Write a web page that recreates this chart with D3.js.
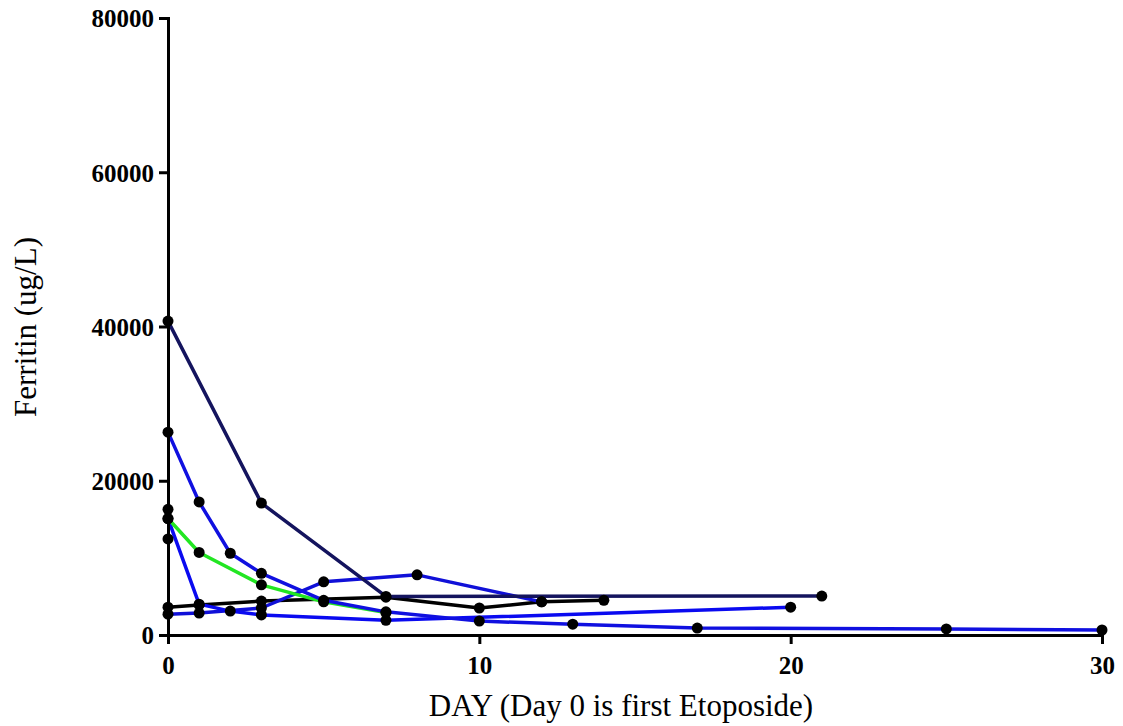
<!DOCTYPE html>
<html><head><meta charset="utf-8">
<script src="https://cdn.jsdelivr.net/npm/d3@7"></script>
<style>body{margin:0;background:#fff}svg{display:block}</style>
</head><body>
<svg id="c" width="1123" height="726"></svg>
<script>
const xTicks = [0, 10, 20, 30];
const yTicks = [0, 20000, 40000, 60000, 80000];
const navyDays = [0, 3, 7, 21];
const navyVals = [40700, 17100, 5000, 5050];
const blueADays = [0, 1, 2, 3, 5, 7, 10, 13, 17, 25, 30];
const blueAVals = [26300, 17250, 10600, 8000, 4500, 3000, 1800, 1400, 900, 780, 650];
const greenDays = [0, 1, 3, 5, 7];
const greenVals = [15100, 10700, 6500, 4300, 2900];
const blueBDays = [0, 1, 2, 3, 7, 20];
const blueBVals = [15100, 4000, 3100, 2600, 1900, 3600];
const blueCDays = [0, 1, 3, 5, 8, 12];
const blueCVals = [2700, 2850, 3500, 6900, 7800, 4300];
const blackDays = [0, 1, 3, 7, 10, 12, 14];
const blackVals = [3600, 3900, 4400, 4900, 3500, 4300, 4500];
const soloDays = [0, 0];
const soloVals = [16300, 12450];

const series = [
  {d: blackDays, v: blackVals, c: "#000000"},
  {d: blueCDays, v: blueCVals, c: "#1010d8"},
  {d: blueBDays, v: blueBVals, c: "#0a0af0"},
  {d: greenDays, v: greenVals, c: "#22e622"},
  {d: blueADays, v: blueAVals, c: "#1010e0"},
  {d: navyDays, v: navyVals, c: "#14145e"},
  {d: soloDays, v: soloVals, c: "none"}
];

const svg = d3.select("#c");
const x = d3.scaleLinear().domain([0, 30]).range([168, 1102]);
const y = d3.scaleLinear().domain([0, 80000]).range([635, 18]);

const line = d3.line().x(p => x(p[0])).y(p => y(p[1]));
series.forEach(s => {
  const pts = s.d.map((d, i) => [d, s.v[i]]);
  if (s.c !== "none") {
    svg.append("path").attr("d", line(pts)).attr("fill", "none")
      .attr("stroke", s.c).attr("stroke-width", 3.5).attr("stroke-linejoin", "round");
  }
});
series.forEach(s => {
  const pts = s.d.map((d, i) => [d, s.v[i]]);
  svg.append("g").selectAll("circle").data(pts).join("circle")
    .attr("cx", p => x(p[0])).attr("cy", p => y(p[1])).attr("r", 5.5).attr("fill", "#000");
});

const serif = "'Liberation Serif', 'Times New Roman', serif";
const xAxis = svg.append("g").attr("transform", "translate(0,635)")
  .call(d3.axisBottom(x).tickValues(xTicks).tickFormat(d3.format("d")).tickSize(9).tickPadding(12));
const yAxis = svg.append("g").attr("transform", "translate(168,0)")
  .call(d3.axisLeft(y).tickValues(yTicks).tickFormat(d => String(d)).tickSize(9).tickPadding(5));
[xAxis, yAxis].forEach(a => {
  a.select(".domain").attr("stroke", "#000").attr("stroke-width", 3);
  a.selectAll(".tick line").attr("stroke", "#000").attr("stroke-width", 3);
  a.selectAll("text").attr("fill", "#000").style("font-family", serif)
    .style("font-size", "25px").style("font-weight", "bold");
});
yAxis.selectAll("text").attr("dy", "0.35em");

svg.append("text").attr("x", 621).attr("y", 716).attr("text-anchor", "middle")
  .style("font-family", serif).style("font-size", "31px")
  .text("DAY (Day 0 is first Etoposide)");
svg.append("text").attr("transform", "translate(36,327) rotate(-90)").attr("text-anchor", "middle")
  .style("font-family", serif).style("font-size", "31px")
  .text("Ferritin (ug/L)");
</script>
</body></html>
